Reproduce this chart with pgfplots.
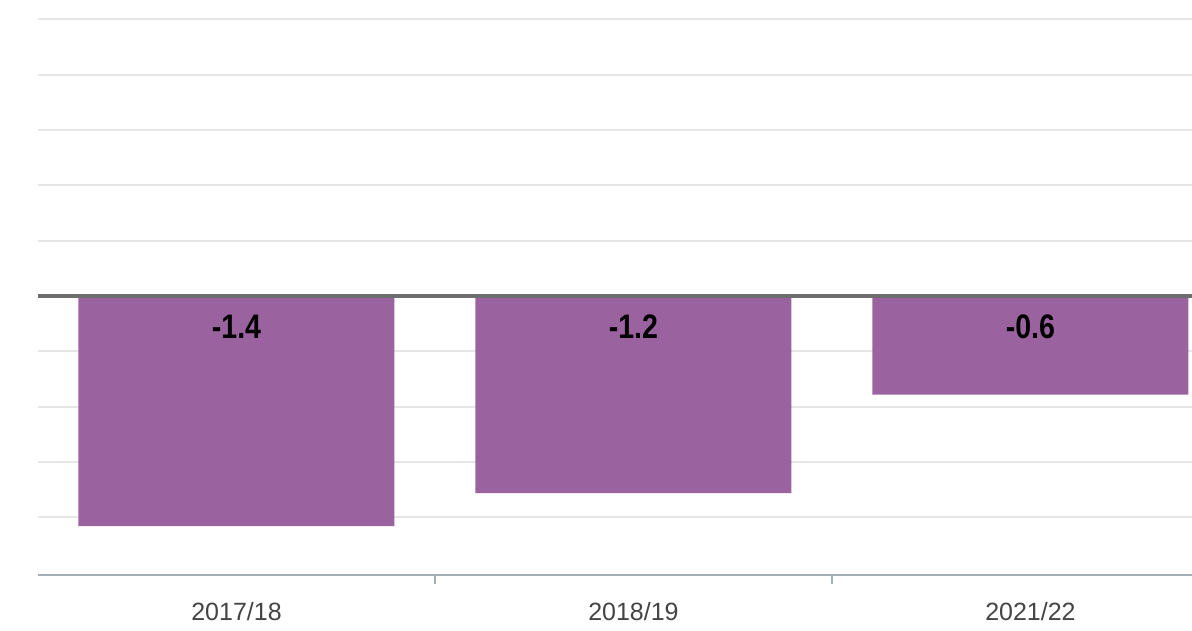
\documentclass[border=0pt]{standalone}
\usepackage{pgfplots}
\pgfplotsset{compat=1.18}
\usepackage{fontspec}
\setmainfont{Liberation Sans}
\newfontfamily\labelfont[FakeStretch=0.84]{Liberation Sans}
\definecolor{barpurple}{HTML}{9B62A0}
\definecolor{gridgray}{HTML}{E6E6E6}
\definecolor{zerogray}{HTML}{6E6E6E}
\definecolor{axisgray}{HTML}{A3AEB5}
\definecolor{ticktext}{HTML}{444444}
\begin{document}
\begin{tikzpicture}
\useasboundingbox (-38pt,-56pt) rectangle (1154pt,575pt);
\begin{axis}[
  at={(0,0)}, anchor=south west,
  scale only axis,
  width=1154pt, height=575pt,
  xmin=-0.5, xmax=2.407,
  ymin=-1.698, ymax=1.8016,
  axis x line*=bottom,
  axis y line*=left,
  y axis line style={draw=none},
  x axis line style={color=axisgray, line width=2pt},
  xtick={0,1,2},
  xticklabels={2017/18,2018/19,2021/22},
  major tick length=0pt,
  xticklabel style={font=\fontsize{25}{29}\selectfont, text=ticktext, yshift=-24pt},
  extra x ticks={0.5,1.5},
  extra x tick labels={},
  extra x tick style={major tick length=9pt, tick align=outside, tick style={color=axisgray, line width=1.5pt}},
  ytick={-1.3464,-1.0098,-0.6732,-0.3366,0.3366,0.6732,1.0098,1.3464,1.683},
  yticklabels={},
  ytick style={draw=none},
  ymajorgrids,
  grid style={color=gridgray, line width=2pt},
  clip=false,
]
\addplot[ybar, bar width=0.796, fill=barpurple, draw=none, bar shift=0pt]
  coordinates {(0,-1.4) (1,-1.2) (2,-0.6)};
\draw[color=zerogray, line width=4pt] (axis cs:-0.5,0) -- (axis cs:2.407,0);
\addplot[only marks, mark=none, draw=none,
  point meta=explicit symbolic,
  nodes near coords,
  every node near coord/.style={anchor=center, yshift=-31pt,
    font=\labelfont\bfseries\fontsize{34}{36}\selectfont, text=black}]
  coordinates {(0,0)[-1.4] (1,0)[-1.2] (2,0)[-0.6]};
\end{axis}
\end{tikzpicture}
\end{document}
